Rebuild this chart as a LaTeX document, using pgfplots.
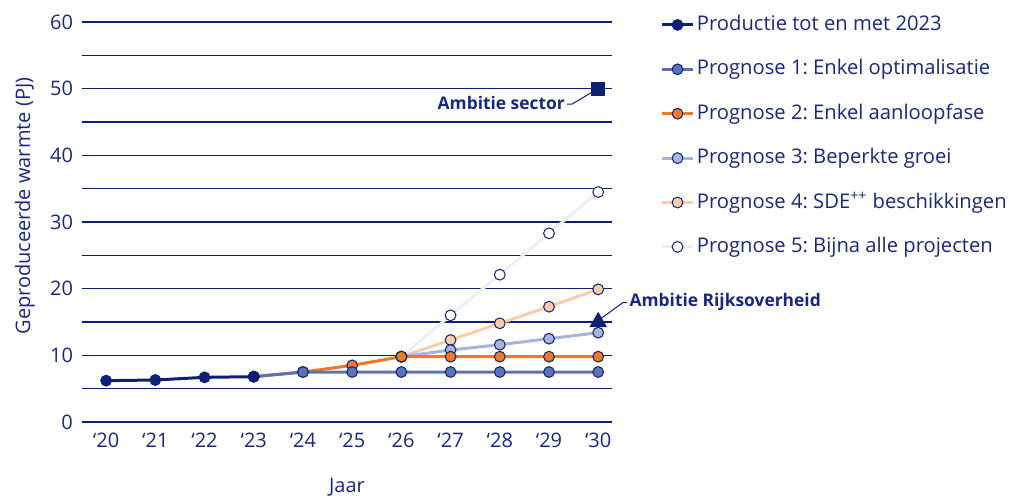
\documentclass[border=0pt]{standalone}
\usepackage{fontspec}
\setmainfont{Open Sans}
\usepackage{pgfplots}
\pgfplotsset{compat=1.18}

\definecolor{navy}{RGB}{14,32,118}
\definecolor{txt}{RGB}{22,40,128}
\definecolor{p1}{RGB}{92,114,180}
\definecolor{p2}{RGB}{240,122,34}
\definecolor{p3}{RGB}{168,180,216}
\definecolor{p4}{RGB}{250,205,170}
\definecolor{p5}{RGB}{234,238,247}

\begin{document}
\frenchspacing
\begin{tikzpicture}
\path[use as bounding box] (-41pt,-36.5pt) rectangle (463.5pt,211pt);
\begin{axis}[
    scale only axis,
    width=265pt, height=200pt,
    xmin=19.51, xmax=30.28,
    ymin=0, ymax=60,
    clip=false,
    axis line style={draw=none},
    tick style={draw=none},
    xtick={20,...,30},
    xticklabels={‘20,‘21,‘22,‘23,‘24,‘25,‘26,‘27,‘28,‘29,‘30},
    ytick={0,10,...,60},
    minor ytick={5,15,...,55},
    ymajorgrids, yminorgrids,
    major grid style={navy, line width=0.6pt},
    minor grid style={navy, line width=0.6pt},
    ticklabel style={font=\fontsize{10}{12}\selectfont, text=txt},
    /pgf/number format/assume math mode=true,
    yticklabel style={xshift=-1pt},
    xticklabel style={yshift=-2pt},
    xlabel={Jaar},
    ylabel={Geproduceerde warmte (PJ)},
    label style={font=\fontsize{10}{12}\selectfont, text=txt},
    xlabel style={at={(axis description cs:0.5,-0.1625)}, anchor=center},
    ylabel style={at={(axis description cs:-0.1075,0.54)}, anchor=center},
    every axis plot/.append style={line width=1.5pt},
    reverse legend,
    legend style={at={(axis description cs:1.09,1.025)}, anchor=north west,
        draw=none, fill=none, font=\fontsize{10.1}{12}\selectfont, text=txt,
        row sep=9.7pt, inner sep=0pt,
        nodes={inner sep=1pt, text height=8pt, text depth=2.5pt}},
    legend cell align=left,
    legend image code/.code={
        \draw[mark repeat=2,mark phase=2] plot coordinates {(0cm,0cm) (0.28cm,0cm) (0.56cm,0cm)};},
]
% Prognose 5
\addplot[p5, mark=*, mark size=2.7pt, mark options={draw=navy, line width=0.5pt, fill=white}]
    coordinates {(26,9.8)(27,16.0)(28,22.1)(29,28.3)(30,34.5)};
% Prognose 4
\addplot[p4, mark=*, mark size=2.7pt, mark options={draw=navy, line width=0.5pt, fill=p4}]
    coordinates {(26,9.8)(27,12.3)(28,14.8)(29,17.3)(30,19.9)};
% Prognose 3
\addplot[p3, mark=*, mark size=2.7pt, mark options={draw=navy, line width=0.5pt, fill=p3}]
    coordinates {(26,9.8)(27,10.8)(28,11.6)(29,12.5)(30,13.4)};
% Prognose 2
\addplot[p2, mark=*, mark size=2.7pt, mark options={draw=navy, line width=0.5pt, fill=p2}]
    coordinates {(23,6.8)(24,7.5)(25,8.5)(26,9.8)(27,9.8)(28,9.8)(29,9.8)(30,9.8)};
% Prognose 1
\addplot[p1, mark=*, mark size=2.7pt, mark options={draw=navy, line width=0.5pt, fill=p1}]
    coordinates {(23,6.8)(24,7.5)(25,7.5)(26,7.5)(27,7.5)(28,7.5)(29,7.5)(30,7.5)};
% Productie
\addplot[navy, mark=*, mark size=2.7pt, mark options={draw=navy, line width=0.5pt, fill=navy}]
    coordinates {(20,6.2)(21,6.3)(22,6.7)(23,6.8)};

% Ambities
\addplot[only marks, mark=square*, mark size=2.8pt, mark options={draw=navy, fill=navy}, forget plot]
    coordinates {(30,50)};
\addplot[only marks, mark=triangle*, mark size=3.6pt, mark options={draw=navy, fill=navy}, forget plot]
    coordinates {(30,15)};

\legend{Prognose 5: Bijna alle projecten, Prognose 4: SDE\textsuperscript{++} beschikkingen,
    Prognose 3: Beperkte groei, Prognose 2: Enkel aanloopfase,
    Prognose 1: Enkel optimalisatie, Productie tot en met 2023}

\draw[navy, line width=0.5pt] (axis cs:29.37,47.7) -- (axis cs:29.47,47.7) -- (axis cs:29.95,49.8);
\node[anchor=east, text=txt, font=\fontsize{8.7}{11}\selectfont\bfseries, inner sep=0pt]
    at (axis cs:29.33,47.8) {Ambitie sector};
\draw[navy, line width=0.5pt] (axis cs:30.58,17.9) -- (axis cs:30.5,17.9) -- (axis cs:30.07,15.6);
\node[anchor=west, text=txt, font=\fontsize{8.7}{11}\selectfont\bfseries, inner sep=0pt]
    at (axis cs:30.63,18.0) {Ambitie Rijksoverheid};
\end{axis}
\end{tikzpicture}
\end{document}
